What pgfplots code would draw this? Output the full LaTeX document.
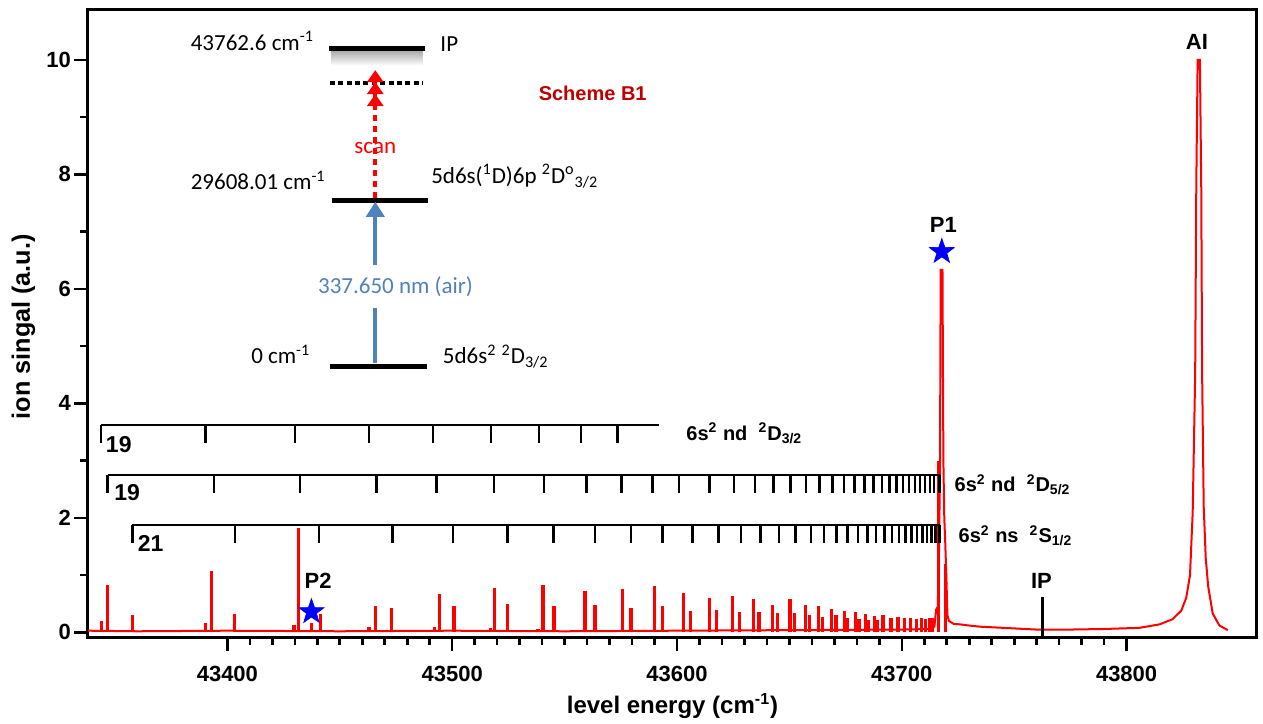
\documentclass[border=0pt]{standalone}
\usepackage{fontspec}
\setmainfont{Liberation Sans}
\newfontfamily\calibri{Carlito}
\usepackage{pgfplots}
\pgfplotsset{compat=1.18}
\usetikzlibrary{arrows.meta}
\definecolor{schemeblue}{RGB}{79,129,189}
\definecolor{darkred}{RGB}{192,0,0}

\pgfdeclareplotmark{fstar}{%
 \pgfpathmoveto{\pgfpointpolar{90}{\pgfplotmarksize}}%
 \pgfpathlineto{\pgfpointpolar{126}{0.4*\pgfplotmarksize}}%
 \pgfpathlineto{\pgfpointpolar{162}{\pgfplotmarksize}}%
 \pgfpathlineto{\pgfpointpolar{198}{0.4*\pgfplotmarksize}}%
 \pgfpathlineto{\pgfpointpolar{234}{\pgfplotmarksize}}%
 \pgfpathlineto{\pgfpointpolar{270}{0.4*\pgfplotmarksize}}%
 \pgfpathlineto{\pgfpointpolar{306}{\pgfplotmarksize}}%
 \pgfpathlineto{\pgfpointpolar{342}{0.4*\pgfplotmarksize}}%
 \pgfpathlineto{\pgfpointpolar{18}{\pgfplotmarksize}}%
 \pgfpathlineto{\pgfpointpolar{54}{0.4*\pgfplotmarksize}}%
 \pgfpathclose\pgfusepathqfillstroke}
\pgfdeclareplotmark{tickdown}{%
 \pgfpathmoveto{\pgfqpoint{0pt}{0pt}}%
 \pgfpathlineto{\pgfqpoint{0pt}{-\pgfplotmarksize}}%
 \pgfusepathqstroke}

\newcommand{\bsf}[1]{\fontsize{#1}{#1}\selectfont\bfseries}
\newcommand{\clb}[1]{\calibri\fontsize{#1}{#1}\selectfont}
\tikzset{lbl/.style={inner sep=0pt, outer sep=0pt}}

\begin{document}
\begin{tikzpicture}
\begin{axis}[
  at={(0,0)}, anchor=south west,
  scale only axis, width=584.5pt, height=313.5pt,
  xmin=43338, xmax=43858, ymin=-0.08, ymax=10.87,
  clip=false,
  axis line style={line width=1.5pt},
  xtick pos=bottom, ytick pos=left,
  tick align=outside,
  xtick={43400,43500,43600,43700,43800},
  minor x tick num=9,
  ytick={0,2,4,6,8,10},
  minor y tick num=1,
  major tick length=7pt, minor tick length=4pt,
  tick style={black, line width=1.3pt},
  scaled x ticks=false, scaled y ticks=false,
  /pgf/number format/1000 sep={},
  /pgf/number format/assume math mode=true,
  ticklabel style={font=\bsf{11}},
  xticklabel style={yshift=-4pt},
  yticklabel style={xshift=2pt},
  xlabel={level energy (cm\textsuperscript{-1})},
  ylabel={ion singal (a.u.)},
  xlabel style={at={(axis description cs:0.5,-0.110)}, anchor=center, font=\bsf{12}},
  ylabel style={at={(axis description cs:-0.0552,0.495)}, anchor=center, font=\bsf{12.6}},
]
% Rydberg peaks
\addplot[ycomb, red, line width=1.6pt, mark=none] coordinates {
(43344.0,0.20) (43346.5,0.83) (43357.9,0.31) (43390.3,0.16) (43393.0,1.08)
(43403.0,0.33) (43429.6,0.13) (43431.8,1.82) (43437.4,0.17) (43441.3,0.33)
(43463.0,0.10) (43465.9,0.46) (43473.1,0.42) (43492.0,0.10) (43494.3,0.67)
(43500.8,0.46) (43516.9,0.08) (43518.9,0.78) (43524.6,0.50) (43538.2,0.06)
(43540.4,0.82) (43545.3,0.46) (43559.1,0.72) (43563.5,0.48) (43575.7,0.76)
(43579.5,0.43) (43590.1,0.81) (43593.6,0.46) (43603.0,0.68) (43606.1,0.38)
(43614.4,0.60) (43617.7,0.39) (43624.8,0.63) (43627.7,0.36) (43634.2,0.58)
(43636.5,0.35) (43642.6,0.48) (43644.6,0.34) (43650.3,0.58) (43652.2,0.34)
(43657.1,0.48) (43659.0,0.30) (43663.1,0.46) (43664.9,0.27) (43668.9,0.41)
(43670.7,0.30) (43674.4,0.38) (43676.0,0.25) (43679.4,0.36) (43681.0,0.24)
(43683.8,0.33) (43685.3,0.22) (43687.8,0.28) (43689.3,0.22) (43691.6,0.30)
(43695.2,0.26) (43698.3,0.27) (43701.2,0.26) (43703.9,0.25) (43706.4,0.24)
(43708.7,0.25) (43710.4,0.24) (43712.4,0.26) (43713.8,0.25)
(43716.4,3.0) (43719.4,1.2)
};
% baseline, P1 and AI peak
\addplot[red, line width=1pt, mark=none] coordinates {
(43338,0.03) (43360,0.02) (43400,0.03) (43450,0.02) (43500,0.03) (43550,0.02)
(43600,0.03) (43650,0.04) (43700,0.05) (43712,0.06) (43714.5,0.10) (43715.3,0.40)
(43716.0,0.45) (43716.6,1.5) (43717.0,3.0) (43717.3,6.33) (43718.1,6.33) (43718.5,3.0)
(43718.9,2.0) (43719.3,1.6) (43719.8,1.0) (43720.3,0.3) (43721,0.2) (43723,0.15)
(43726,0.14) (43730,0.12) (43735,0.10) (43740,0.09) (43750,0.07) (43760,0.05)
(43775,0.05) (43790,0.06) (43805.7,0.08) (43814.6,0.14) (43820.4,0.23) (43824.3,0.38)
(43826.5,0.6) (43828.2,1.0) (43829.4,2.1) (43830.5,4.5) (43831.0,7.8) (43831.6,10.0)
(43832.6,10.0) (43833.2,7.8) (43833.6,4.5) (43834.3,2.2) (43835.2,1.3) (43836.3,0.8)
(43838.3,0.33) (43841.3,0.12) (43845,0.04)
};
% IP marker line
\addplot[black, line width=1.5pt, mark=none] coordinates {(43762.6,-0.08) (43762.6,0.62)};
% Rydberg series markers
\addplot[black, line width=1.25pt, mark=tickdown, mark size=9pt] coordinates {
(43343.75,3.62) (43390.2,3.62) (43430.0,3.62) (43462.9,3.62) (43491.4,3.62)
(43517.3,3.62) (43538.6,3.62) (43557.3,3.62) (43573.5,3.62)};
\addplot[black, line width=1.25pt, mark=none] coordinates {(43573.5,3.62) (43591.9,3.62)};
\addplot[black, line width=1.25pt, mark=tickdown, mark size=9pt] coordinates {
(43346.7,2.75) (43394.0,2.75) (43432.2,2.75) (43466.3,2.75) (43493.0,2.75)
(43518.7,2.75) (43540.8,2.75) (43559.8,2.75) (43575.4,2.75) (43589.0,2.75)
(43601.0,2.75) (43614.5,2.75) (43625.3,2.75) (43634.6,2.75) (43643.0,2.75)
(43650.5,2.75) (43657.3,2.75) (43663.5,2.75) (43669.1,2.75) (43674.3,2.75)
(43679.0,2.75) (43683.4,2.75) (43687.4,2.75) (43691.1,2.75) (43694.5,2.75)
(43697.7,2.75) (43700.6,2.75) (43703.3,2.75) (43705.8,2.75) (43708.2,2.75)
(43710.4,2.75) (43712.5,2.75) (43714.4,2.75) (43716.8,2.75)};
\addplot[black, line width=1.25pt, mark=tickdown, mark size=9pt] coordinates {
(43357.7,1.877) (43403.3,1.877) (43440.8,1.877) (43473.5,1.877) (43500.3,1.877)
(43524.5,1.877) (43545.1,1.877) (43563.5,1.877) (43579.6,1.877) (43593.5,1.877)
(43607.0,1.877) (43618.5,1.877) (43628.4,1.877) (43637.2,1.877) (43645.4,1.877)
(43652.8,1.877) (43659.5,1.877) (43665.5,1.877) (43670.9,1.877) (43675.9,1.877)
(43680.5,1.877) (43684.7,1.877) (43688.6,1.877) (43692.2,1.877) (43695.6,1.877)
(43698.7,1.877) (43701.6,1.877) (43704.3,1.877) (43706.8,1.877) (43709.1,1.877)
(43711.3,1.877) (43713.3,1.877) (43715.1,1.877) (43716.8,1.877)};
% stars
\addplot[only marks, mark=fstar, mark size=6.6pt, blue, mark options={fill=blue, draw=blue, line width=0.3pt}]
 coordinates {(43717.8,6.65) (43437.4,0.36)};

% series labels
\node[lbl, anchor=base west, font=\bsf{11.5}] at (axis cs:43346.0,3.15) {19};
\node[lbl, anchor=base west, font=\bsf{11.5}] at (axis cs:43349.7,2.31) {19};
\node[lbl, anchor=base west, font=\bsf{11.5}] at (axis cs:43360.2,1.41) {21};
\node[lbl, anchor=base west, font=\bsf{10}] at (axis cs:43604.2,3.36) {6s\textsuperscript{2} nd\ \ \textsuperscript{2}D\textsubscript{3/2}};
\node[lbl, anchor=base west, font=\bsf{10}] at (axis cs:43723.5,2.46) {6s\textsuperscript{2} nd\ \ \textsuperscript{2}D\textsubscript{5/2}};
\node[lbl, anchor=base west, font=\bsf{10}] at (axis cs:43725.3,1.57) {6s\textsuperscript{2} ns\ \ \textsuperscript{2}S\textsubscript{1/2}};
% peak labels
\node[lbl, anchor=base, font=\bsf{11}] at (axis cs:43718.5,6.99) {P1};
\node[lbl, anchor=base, font=\bsf{11}] at (axis cs:43440.4,0.77) {P2};
\node[lbl, anchor=base, font=\bsf{11}] at (axis cs:43762.1,0.77) {IP};
\node[lbl, anchor=base, font=\bsf{11}] at (axis cs:43831.3,10.18) {AI};
% excitation scheme
\shade[top color=black!32, bottom color=white] (axis cs:43446.0,10.15) rectangle (axis cs:43487.0,9.90);
\draw[line width=2.5pt] (axis cs:43445.1,10.19) -- (axis cs:43487.8,10.19);
\draw[line width=2pt, dash pattern=on 2.5pt off 1.7pt] (axis cs:43445.6,9.60) -- (axis cs:43486.9,9.60);
\draw[line width=2.5pt] (axis cs:43446.5,7.55) -- (axis cs:43489.2,7.55);
\draw[line width=2.5pt] (axis cs:43445.6,4.65) -- (axis cs:43488.7,4.65);
\draw[red, line width=2pt, dash pattern=on 3pt off 2.5pt,
  -{Triangle[length=6pt,width=8pt,sep=0pt]Triangle[length=6pt,width=8pt,sep=0pt]Triangle[length=6pt,width=8pt]}]
  (axis cs:43465.8,7.59) -- (axis cs:43465.8,9.82);
\draw[schemeblue, line width=1.9pt] (axis cs:43465.8,4.71) -- (axis cs:43465.8,5.67);
\draw[schemeblue, line width=1.9pt, -{Triangle[length=7.5pt,width=9pt]}] (axis cs:43465.8,6.42) -- (axis cs:43465.8,7.52);
\node[lbl, anchor=base east, font=\clb{11.5}] at (axis cs:43438.5,10.17) {43762.6 cm\textsuperscript{-1}};
\node[lbl, anchor=base west, font=\clb{11.5}] at (axis cs:43494.8,10.14) {IP};
\node[lbl, anchor=base east, font=\clb{11.5}] at (axis cs:43443.7,7.73) {29608.01 cm\textsuperscript{-1}};
\node[lbl, anchor=base west, font=\clb{11.5}] at (axis cs:43490.7,7.84) {5d6s(\textsuperscript{1}D)6p \textsuperscript{2}D\textsuperscript{o}\textsubscript{3/2}};
\node[lbl, anchor=base, font=\clb{11.5}, text=red] at (axis cs:43465.8,8.36) {scan};
\node[lbl, anchor=base, font=\clb{11.5}, text=schemeblue] at (axis cs:43474.8,5.92) {337.650 nm (air)};
\node[lbl, anchor=base east, font=\clb{11.5}] at (axis cs:43436.9,4.69) {0 cm\textsuperscript{-1}};
\node[lbl, anchor=base west, font=\clb{11.5}] at (axis cs:43495.9,4.69) {5d6s\textsuperscript{2} \textsuperscript{2}D\textsubscript{3/2}};
\node[lbl, anchor=base, font=\bsf{10}, text=darkred] at (axis cs:43562.5,9.29) {Scheme B1};
\end{axis}
\pgfresetboundingbox
\useasboundingbox (-44pt,-43pt) rectangle (587.5pt,318.5pt);
\end{tikzpicture}
\end{document}
